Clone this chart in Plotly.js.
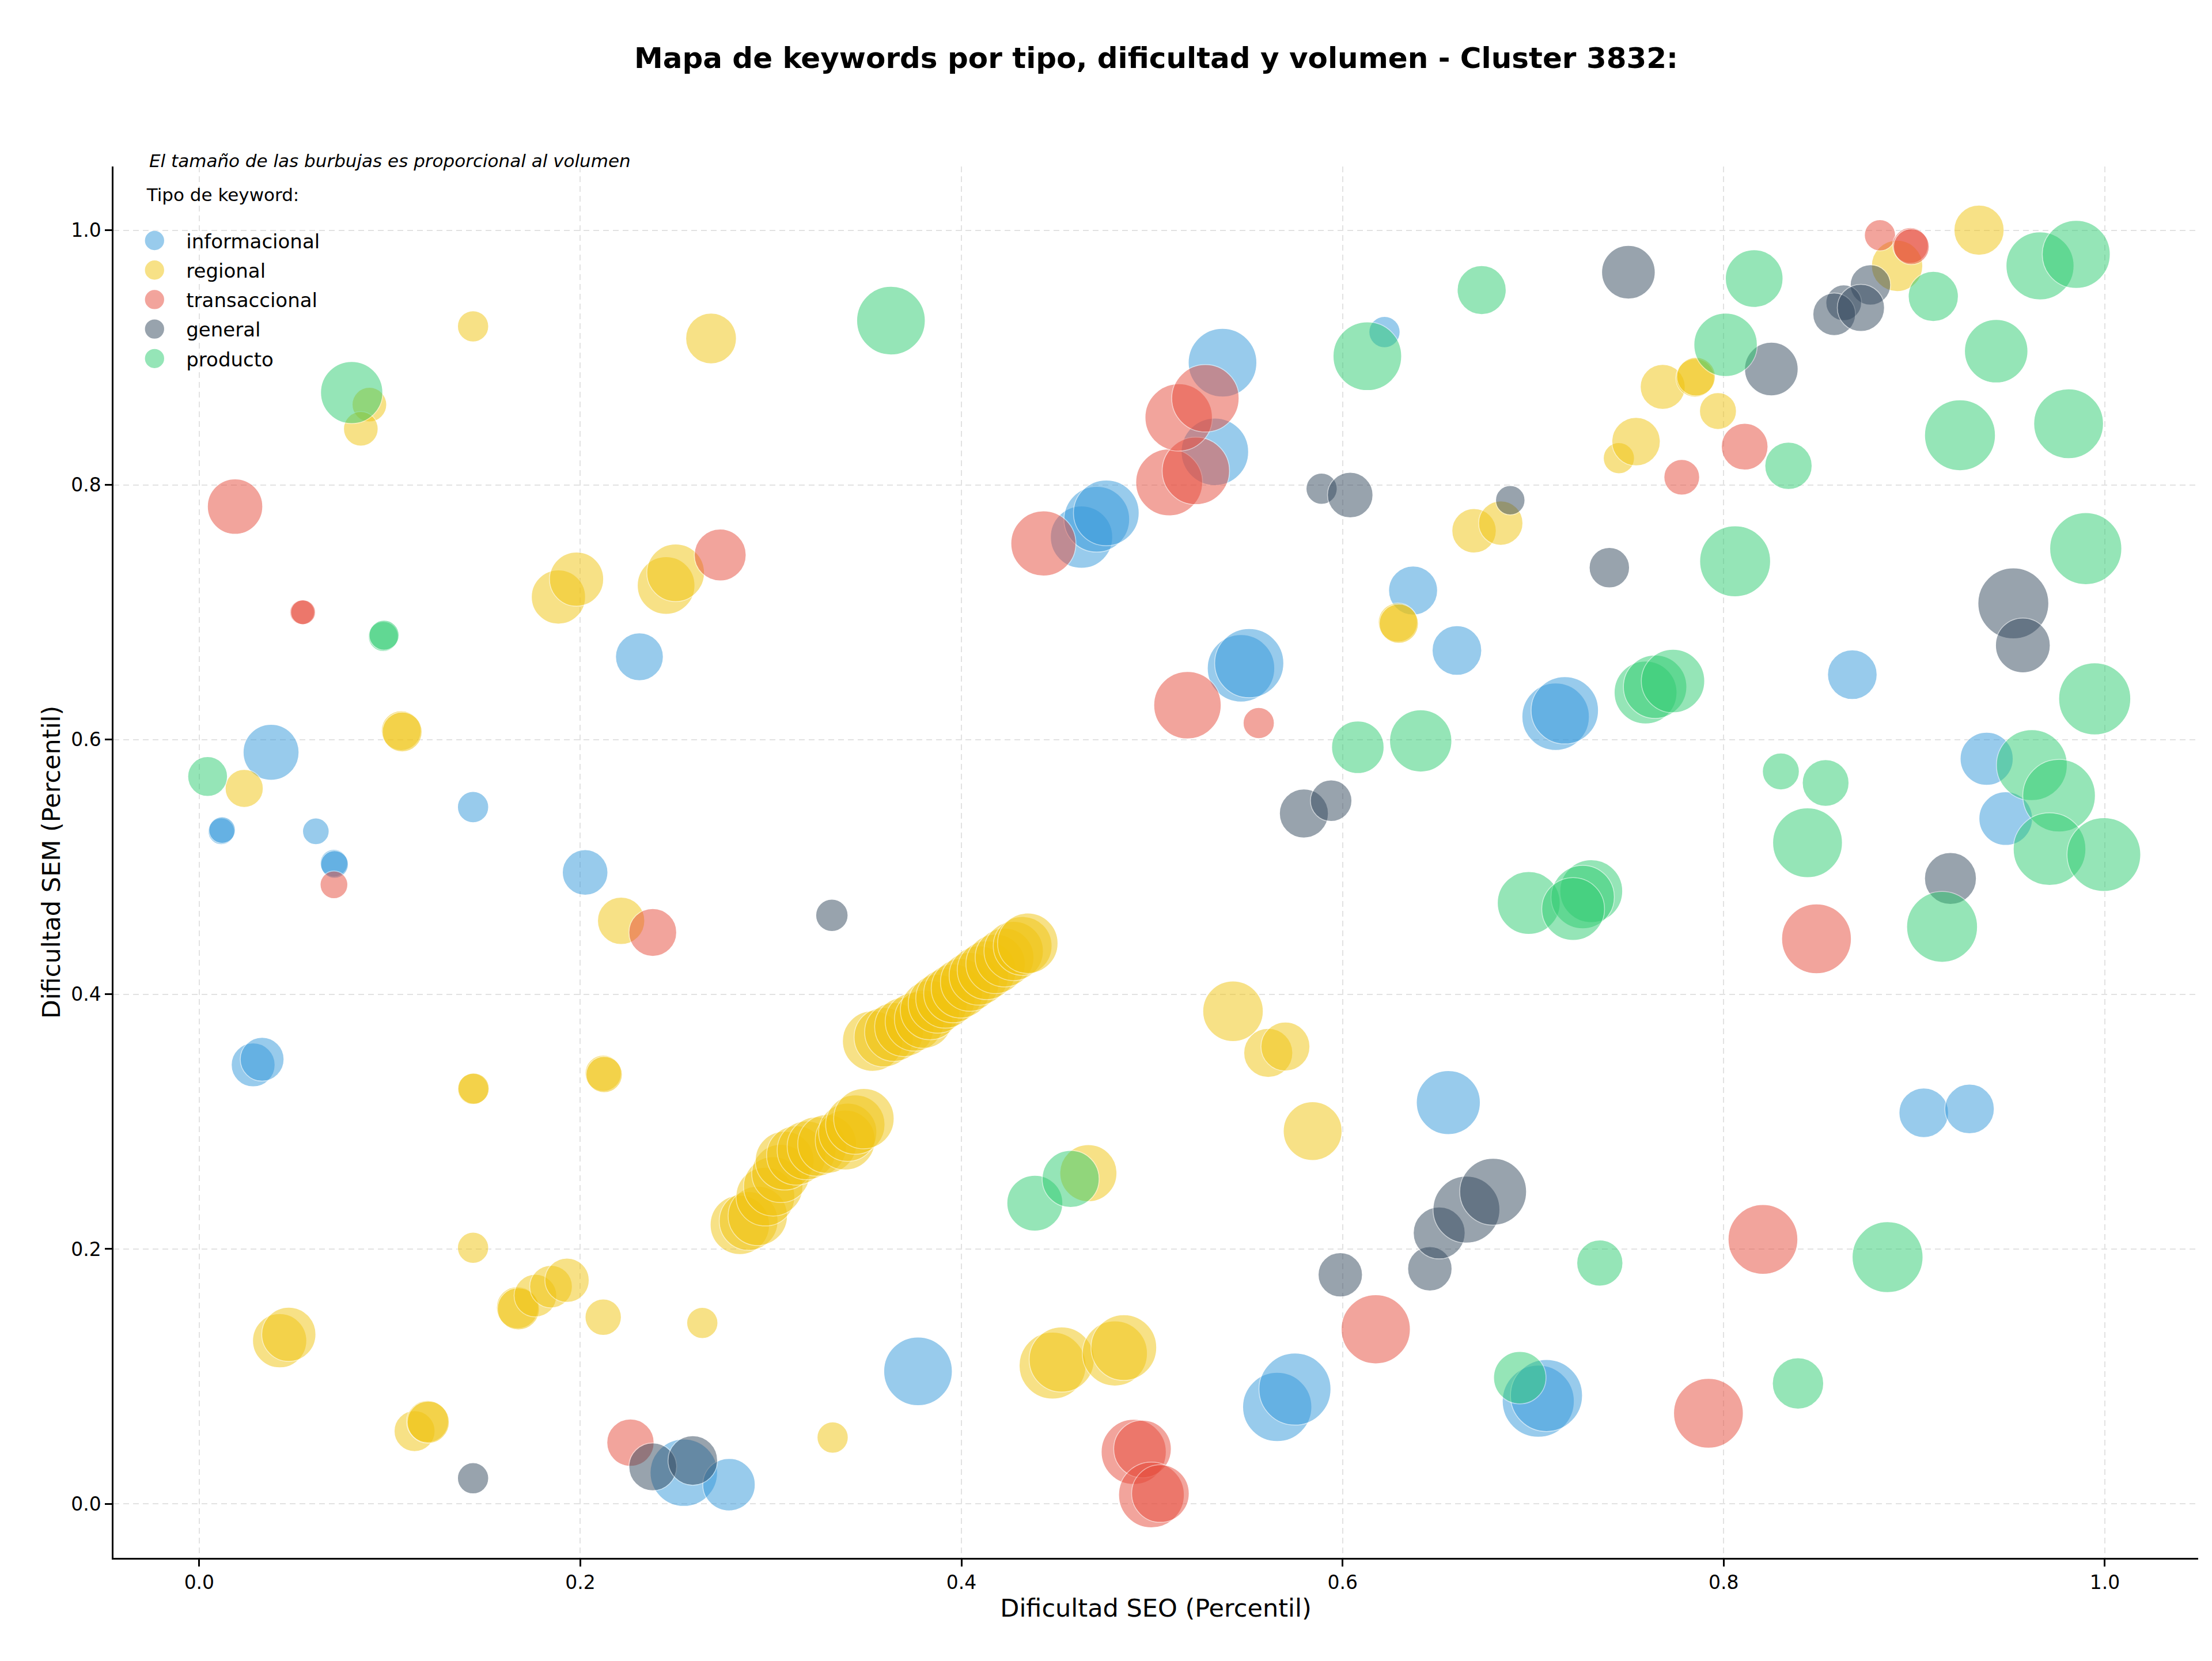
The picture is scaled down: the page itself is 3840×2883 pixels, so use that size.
<!DOCTYPE html>
<html>
<head>
<meta charset="utf-8">
<script src="https://cdn.plot.ly/plotly-3.0.1.min.js"></script>
<style>
  html, body { margin: 0; padding: 0; background: #ffffff; }
  #chart { width: 3840px; height: 2883px; }
</style>
</head>
<body>
<div id="chart"></div>
<script>
// ---------------- DATA ----------------
const categories = ["informacional", "regional", "transaccional", "general", "producto"];
const baseColors = ["#3498db", "#f1c40f", "#e74c3c", "#34495e", "#2ecc71"];

// informacional
const infoSEO = [0.0377,0.0116,0.0120,0.0612,0.0707,0.0710,0.1437,0.2025,0.231,0.0283,0.033,0.2543,0.278,0.3772,
  0.463,0.471,0.476,0.537,0.533,0.622,0.637,0.660,0.5467,0.551,0.7118,0.7166,0.8675,0.6555,0.5657,0.575,0.7027,0.707,
  0.938,0.948,0.905,0.929];
const infoSEM = [0.590,0.528,0.529,0.528,0.503,0.502,0.547,0.4957,0.665,0.3446,0.349,0.0244,0.015,0.104,
  0.759,0.773,0.778,0.896,0.826,0.920,0.717,0.670,0.656,0.660,0.618,0.623,0.651,0.315,0.076,0.090,0.0805,0.085,
  0.585,0.538,0.307,0.310];
const infoVol = [4700,1060,1060,1060,1150,1150,1460,3120,3440,2890,2890,6840,4140,7080,
  5830,6500,6500,7080,6840,1460,3610,3700,6840,7200,6840,6840,3700,6160,7200,7810,7810,7810,
  4230,4320,3700,3700];

// regional
const regSEO = [0.1437,0.2686,0.0893,0.0848,0.0236,0.106,0.1065,0.1885,0.198,0.245,0.250,0.2214,0.212,0.2125,
  0.1437,0.1440,0.1437,0.167,0.1675,0.1764,0.1846,0.193,0.212,0.264,0.0422,0.047,0.113,0.1198,0.1202,0.3324,
  0.2837,0.2883,0.2931,0.2971,0.3012,0.3052,0.3072,0.3133,0.3187,0.3241,0.3295,0.3390,0.3403,0.3443,0.3488,
  0.3534,0.3592,0.3646,0.3700,0.3754,0.3801,0.3835,0.3875,0.3916,0.3956,0.3997,0.4044,0.4091,0.4132,0.4179,
  0.4226,0.4274,0.4321,0.4348,
  0.5425,0.561,0.570,0.5843,0.4666,0.4478,0.4526,0.4805,0.4852,0.629,0.6295,0.669,0.683,0.745,0.754,0.768,
  0.785,0.7855,0.797,0.891,0.934];
const regSEM = [0.9245,0.915,0.863,0.844,0.5617,0.607,0.606,0.712,0.726,0.721,0.731,0.4577,0.338,0.337,
  0.3257,0.3260,0.201,0.154,0.153,0.1634,0.1705,0.1755,0.1465,0.142,0.128,0.133,0.057,0.0646,0.0640,0.052,
  0.2190,0.2220,0.2260,0.2412,0.2492,0.2593,0.2694,0.2735,0.2775,0.2805,0.2825,0.2856,0.2917,0.2977,0.3024,
  0.3633,0.3663,0.3704,0.3744,0.3785,0.3805,0.3876,0.3926,0.3967,0.4007,0.4047,0.4098,0.4148,0.4189,0.4239,
  0.4289,0.4340,0.4380,0.4401,
  0.3867,0.354,0.359,0.2926,0.2596,0.1085,0.1132,0.118,0.1226,0.692,0.691,0.764,0.770,0.821,0.834,0.877,
  0.884,0.885,0.858,0.972,1.000];
const regVol = [1460,3870,1800,1800,2180,2380,2380,4420,4420,5000,5000,3360,1980,1980,
  1460,1460,1460,2660,2660,2740,2740,2960,1980,1460,4420,4420,2520,2660,2660,1460,
  5300,5200,5300,5200,5300,5100,5200,5300,5200,5300,5200,5400,5100,5300,5500,
  5500,5300,5200,5300,5200,5100,5300,5200,5300,5200,5300,5200,5300,5200,5300,
  5200,5300,5200,5500,
  5510,3610,3610,5200,4900,6730,6380,6380,6500,2310,2310,2960,2960,1460,3530,3040,
  2240,2240,2050,3960,3780];

// transaccional
const traSEO = [0.0188,0.2734,0.054,0.0545,0.0707,0.238,0.2263,0.443,0.509,0.523,0.514,0.528,0.5186,0.556,
  0.4904,0.495,0.4997,0.5044,0.6174,0.792,0.8206,0.8487,0.811,0.778,0.882,0.898,0.8985];
const traSEM = [0.783,0.745,0.700,0.700,0.486,0.4486,0.048,0.754,0.802,0.811,0.853,0.868,0.627,0.613,
  0.0407,0.043,0.0069,0.008,0.137,0.071,0.2076,0.4436,0.830,0.806,0.996,0.988,0.987];
const traVol = [4610,4050,925,925,1150,3440,3360,6380,6730,6840,6840,6840,6840,1460,
  6380,5000,6500,5000,7200,7320,7320,7320,3280,1920,1460,1920,1920];

// general
const genSEO = [0.1437,0.238,0.259,0.332,0.589,0.604,0.5797,0.594,0.5988,0.6458,0.6507,0.665,0.679,
  0.688,0.740,0.750,0.825,0.877,0.863,0.858,0.872,0.952,0.957,0.919];
const genSEM = [0.020,0.029,0.034,0.462,0.797,0.792,0.542,0.552,0.1798,0.1845,0.2126,0.231,0.245,
  0.788,0.735,0.967,0.891,0.957,0.943,0.934,0.939,0.707,0.674,0.491];
const genVol = [1460,3440,3700,1570,1460,3120,3610,2590,2960,2960,4050,6730,6730,
  1300,2450,4320,4320,2450,1920,2740,3360,7560,4510,4050];

// producto
const proSEO = [0.080,0.0966,0.0970,0.0044,0.363,0.4385,0.4573,0.613,0.673,0.608,0.641,0.816,0.801,0.910,
  0.966,0.985,0.943,0.834,0.924,0.981,0.806,0.990,0.759,0.764,0.7734,0.9947,0.830,0.8535,0.844,0.9617,
  0.976,0.971,0.9995,0.9146,0.6977,0.7305,0.726,0.721,0.735,0.886,0.693,0.839];
const proSEM = [0.8725,0.681,0.682,0.571,0.929,0.236,0.2551,0.901,0.953,0.594,0.599,0.962,0.910,0.948,
  0.972,0.981,0.905,0.815,0.839,0.848,0.740,0.750,0.637,0.6415,0.646,0.632,0.575,0.566,0.519,0.580,
  0.556,0.514,0.5097,0.453,0.4717,0.481,0.4764,0.467,0.189,0.1936,0.099,0.0945];
const proVol = [5830,1350,1350,2380,7080,4700,4900,7080,3610,4140,5830,5000,6050,3780,
  6960,6960,6050,3360,7560,7320,7560,7810,5940,6050,6050,7810,2050,3280,7320,7560,
  7940,7940,8190,7560,5940,5940,6050,5940,3200,7560,4140,3960];

const xTickVals = [0.0, 0.2, 0.4, 0.6, 0.8, 1.0];
const yTickVals = [0.0, 0.2, 0.4, 0.6, 0.8, 1.0];

const titleText = "Mapa de keywords por tipo, dificultad y volumen - Cluster 3832:";
const noteText = "El tamaño de las burbujas es proporcional al volumen";
const legendTitle = "Tipo de keyword:";
const xTitle = "Dificultad SEO (Percentil)";
const yTitle = "Dificultad SEM (Percentil)";

// ---------------- PLOT ----------------
const series = [
  [infoSEO, infoSEM, infoVol],
  [regSEO, regSEM, regVol],
  [traSEO, traSEM, traVol],
  [genSEO, genSEM, genVol],
  [proSEO, proSEM, proVol]
];

const FONT = "DejaVu Sans, Verdana, sans-serif";

const traces = series.map((s, i) => ({
  type: "scatter",
  mode: "markers",
  name: categories[i],
  legendgroup: categories[i],
  x: s[0],
  y: s[1],
  text: s[2].map(v => "Volumen: " + v),
  hoverinfo: "x+y+text+name",
  marker: {
    size: s[2].map(v => Math.sqrt(2 * v)),
    sizemode: "diameter",
    color: baseColors[i],
    opacity: 0.5,
    line: { color: "#ffffff", width: 1.5 }
  }
}));

const axisCommon = {
  showline: true,
  linecolor: "#000000",
  linewidth: 2.5,
  mirror: false,
  ticks: "outside",
  ticklen: 12,
  tickwidth: 2.5,
  tickcolor: "#000000",
  tickfont: { family: FONT, size: 33, color: "#000000" },
  tickformat: ".1f",
  showgrid: true,
  gridcolor: "#e2e2e2",
  gridwidth: 2,
  griddash: "10px,7px",
  zeroline: false,
  automargin: false
};

const layout = {
  width: 3840,
  height: 2883,
  paper_bgcolor: "#ffffff",
  plot_bgcolor: "#ffffff",
  margin: { l: 197, r: 24, t: 289, b: 179 },
  font: { family: FONT, color: "#000000" },
  title: {
    text: "<b>" + titleText + "</b>",
    font: { family: FONT, size: 50, color: "#000000" },
    x: 2007 / 3840,
    xref: "container",
    xanchor: "center",
    y: 1 - 100 / 2883,
    yref: "container",
    yanchor: "middle"
  },
  xaxis: Object.assign({}, axisCommon, {
    range: [-0.045, 1.049],
    tickvals: xTickVals,
    title: { text: xTitle, font: { family: FONT, size: 43, color: "#000000" }, standoff: 11 }
  }),
  yaxis: Object.assign({}, axisCommon, {
    range: [-0.0425, 1.05],
    tickvals: yTickVals,
    title: { text: yTitle, font: { family: FONT, size: 43, color: "#000000" }, standoff: 6 }
  }),
  showlegend: true,
  legend: {
    x: 0.0045,
    xanchor: "left",
    y: 0.992,
    yanchor: "top",
    bgcolor: "rgba(255,255,255,0)",
    borderwidth: 0,
    itemwidth: 100,
    font: { family: FONT, size: 34, color: "#000000" },
    title: { text: "&nbsp;&nbsp;&nbsp;&nbsp;" + legendTitle + "<br> ", font: { family: FONT, size: 31, color: "#000000" }, side: "top" },
    tracegroupgap: 4
  },
  annotations: [{
    text: "<i>" + noteText + "</i>",
    xref: "paper", yref: "paper",
    x: (257 - 197) / 3619, xanchor: "left",
    y: 1 + (2704 - 279 - 2415) / 2415, yanchor: "middle",
    showarrow: false,
    font: { family: FONT, size: 31, color: "#000000" }
  }],
  hovermode: "closest"
};

Plotly.newPlot("chart", traces, layout, { displayModeBar: false, responsive: false }).then(() => {
  document.querySelectorAll("#chart .legend .legendpoints path.scatterpts").forEach(p => {
    const t = p.getAttribute("transform") || "";
    p.setAttribute("transform", t + " scale(2.3)");
  });
});
</script>
</body>
</html>
